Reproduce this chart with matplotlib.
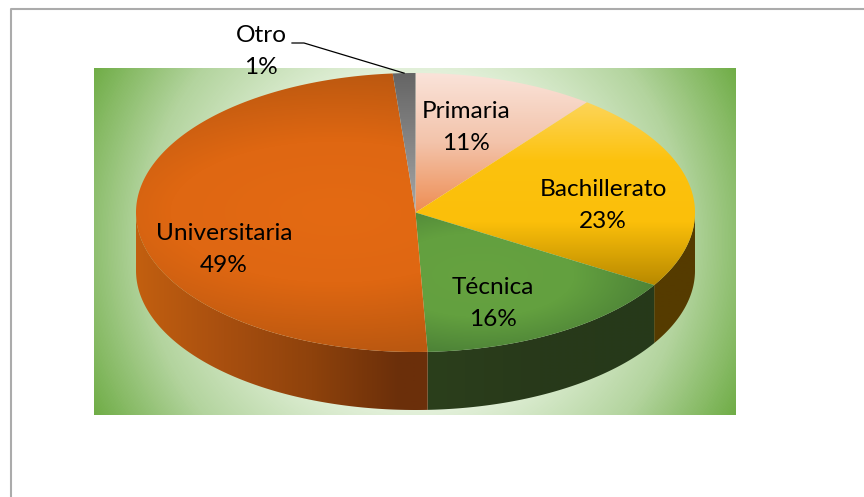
import numpy as np
import matplotlib
matplotlib.use('Agg')
import matplotlib.pyplot as plt
from matplotlib.colors import LinearSegmentedColormap
from matplotlib.patches import Polygon

# shares, clockwise from 12 o'clock
categories = ['Primaria', 'Bachillerato', 'Técnica', 'Universitaria', 'Otro']
values = [10.51, 23.2, 15.6, 49.39, 1.3]

# layout, in image pixels
W, H = 864, 497
CX, CY, RX, RY = 415.5, 212.5, 279.5, 139.5
DEPTH = 58
BG_BOX = (94, 736, 68, 415)
label_pos = [(466, 111), (603, 189), (493, 288), (224, 234), (261, 36)]
label_gap = 32


def cmap(colors):
    return LinearSegmentedColormap.from_list('c', colors)


def ell(t, dy=0):
    return np.column_stack([CX + RX * np.sin(t), CY - RY * np.cos(t) + dy])


def paint(ax, verts, img, box, z):
    # gradient image cut down to the polygon
    im = ax.imshow(img, extent=(box[0], box[1], box[3], box[2]), aspect='auto',
                   interpolation='bilinear', zorder=z)
    clip = Polygon(verts, closed=True, transform=ax.transData)
    im.set_clip_path(clip)
    return im


def grid(box):
    x = np.arange(box[0], box[1] + 1)
    y = np.arange(box[2], box[3] + 1)
    return np.meshgrid(x, y)


def vertical(colors, y0, y1):
    box = (CX - RX - 2, CX + RX + 2, CY - RY - 2, CY + RY + 2)
    xx, yy = grid(box)
    return cmap(colors)(np.clip((yy - y0) / (y1 - y0), 0, 1)), box


def radial(colors, x0, y0, sx, sy):
    box = (CX - RX - 2, CX + RX + 2, CY - RY - 2, CY + RY + 2)
    xx, yy = grid(box)
    return cmap(colors)(np.clip(np.hypot((xx - x0) / sx, (yy - y0) / sy), 0, 1)), box


def horizontal(colors, x0, x1):
    box = (CX - RX - 2, CX + RX + 2, CY, CY + RY + DEPTH + 2)
    xx, yy = grid(box)
    return cmap(colors)(np.clip((xx - x0) / (x1 - x0), 0, 1)), box


fig = plt.figure(figsize=(W / 100, H / 100), dpi=100)
ax = fig.add_axes([0, 0, 1, 1])

# chart frame
ax.plot([10.5, 10.5, W], [H, 8.5, 8.5], color='#ababab', lw=1.5, zorder=1)

# plot area background
xx, yy = grid(BG_BOX)
r = np.hypot(xx - 415, yy - 241) / 365
bg_map = LinearSegmentedColormap.from_list(
    'bg', [(0, '#eef6ea'), (0.47, '#e2f0d9'), (0.75, '#b3d49e'), (1, '#70ad47')])
ax.imshow(bg_map(np.clip(r, 0, 1)), extent=(BG_BOX[0], BG_BOX[1], BG_BOX[3], BG_BOX[2]),
          aspect='auto', zorder=2)

# slice limits on the ellipse
shares = np.array(values) / sum(values)
edges = np.concatenate([[0], np.cumsum(shares)]) * 2 * np.pi

top_fill = [
    vertical(['#fae3d9', '#f3c3aa', '#ee8d52'], CY - RY, CY),
    vertical(['#fdd65e', '#fcc20e', '#fbbf0a', '#b98a00'], CY - 115, CY + 72),
    radial(['#66a240', '#63a03f', '#4a7f36'], 480, 275, 190, 85),
    radial(['#e46a13', '#df6712', '#bb5810'], 335, 212, 330, 142),
    vertical(['#656565', '#a6a6a6'], CY - RY, CY),
]
side_fill = [
    horizontal(['#553b00', '#553b00'], 0, 1),
    horizontal(['#553b00', '#553b00'], 0, 1),
    horizontal(['#2b3f1c', '#28391a', '#263a1a'], 428, 652),
    horizontal(['#c25f10', '#a84f0f', '#8e420c', '#6b2f0a'], 136, 400),
    horizontal(['#666666', '#666666'], 0, 1),
]

# side wall first, only the front half of the ellipse shows
for i in range(len(values)):
    a = max(edges[i], np.pi / 2)
    b = min(edges[i + 1], 3 * np.pi / 2)
    if b <= a:
        continue
    t = np.linspace(a, b, 200)
    verts = np.vstack([ell(t), ell(t[::-1], DEPTH)])
    img, box = side_fill[i]
    paint(ax, verts, img, box, 3)

# top faces
for i in range(len(values)):
    t = np.linspace(edges[i], edges[i + 1], 200)
    verts = np.vstack([[[CX, CY]], ell(t)])
    img, box = top_fill[i]
    paint(ax, verts, img, box, 4)

# leader line for the smallest slice
mid = (edges[-2] + edges[-1]) / 2
tip = ell(np.array([mid]))[0]
ax.plot([292, 304, tip[0]], [43, 43, tip[1]], color='black', lw=0.9, zorder=5)

# labels
for name, v, (lx, ly) in zip(categories, values, label_pos):
    ax.text(lx, ly, name, ha='center', va='center', family='Lato', fontsize=17.6,
            color='black', zorder=6)
    ax.text(lx, ly + label_gap, '%.0f%%' % v, ha='center', va='center', family='Lato',
            fontsize=17.6, color='black', zorder=6)

ax.set_xlim(0, W)
ax.set_ylim(H, 0)
ax.axis('off')
fig.savefig('out.png', dpi=100, facecolor='white')
